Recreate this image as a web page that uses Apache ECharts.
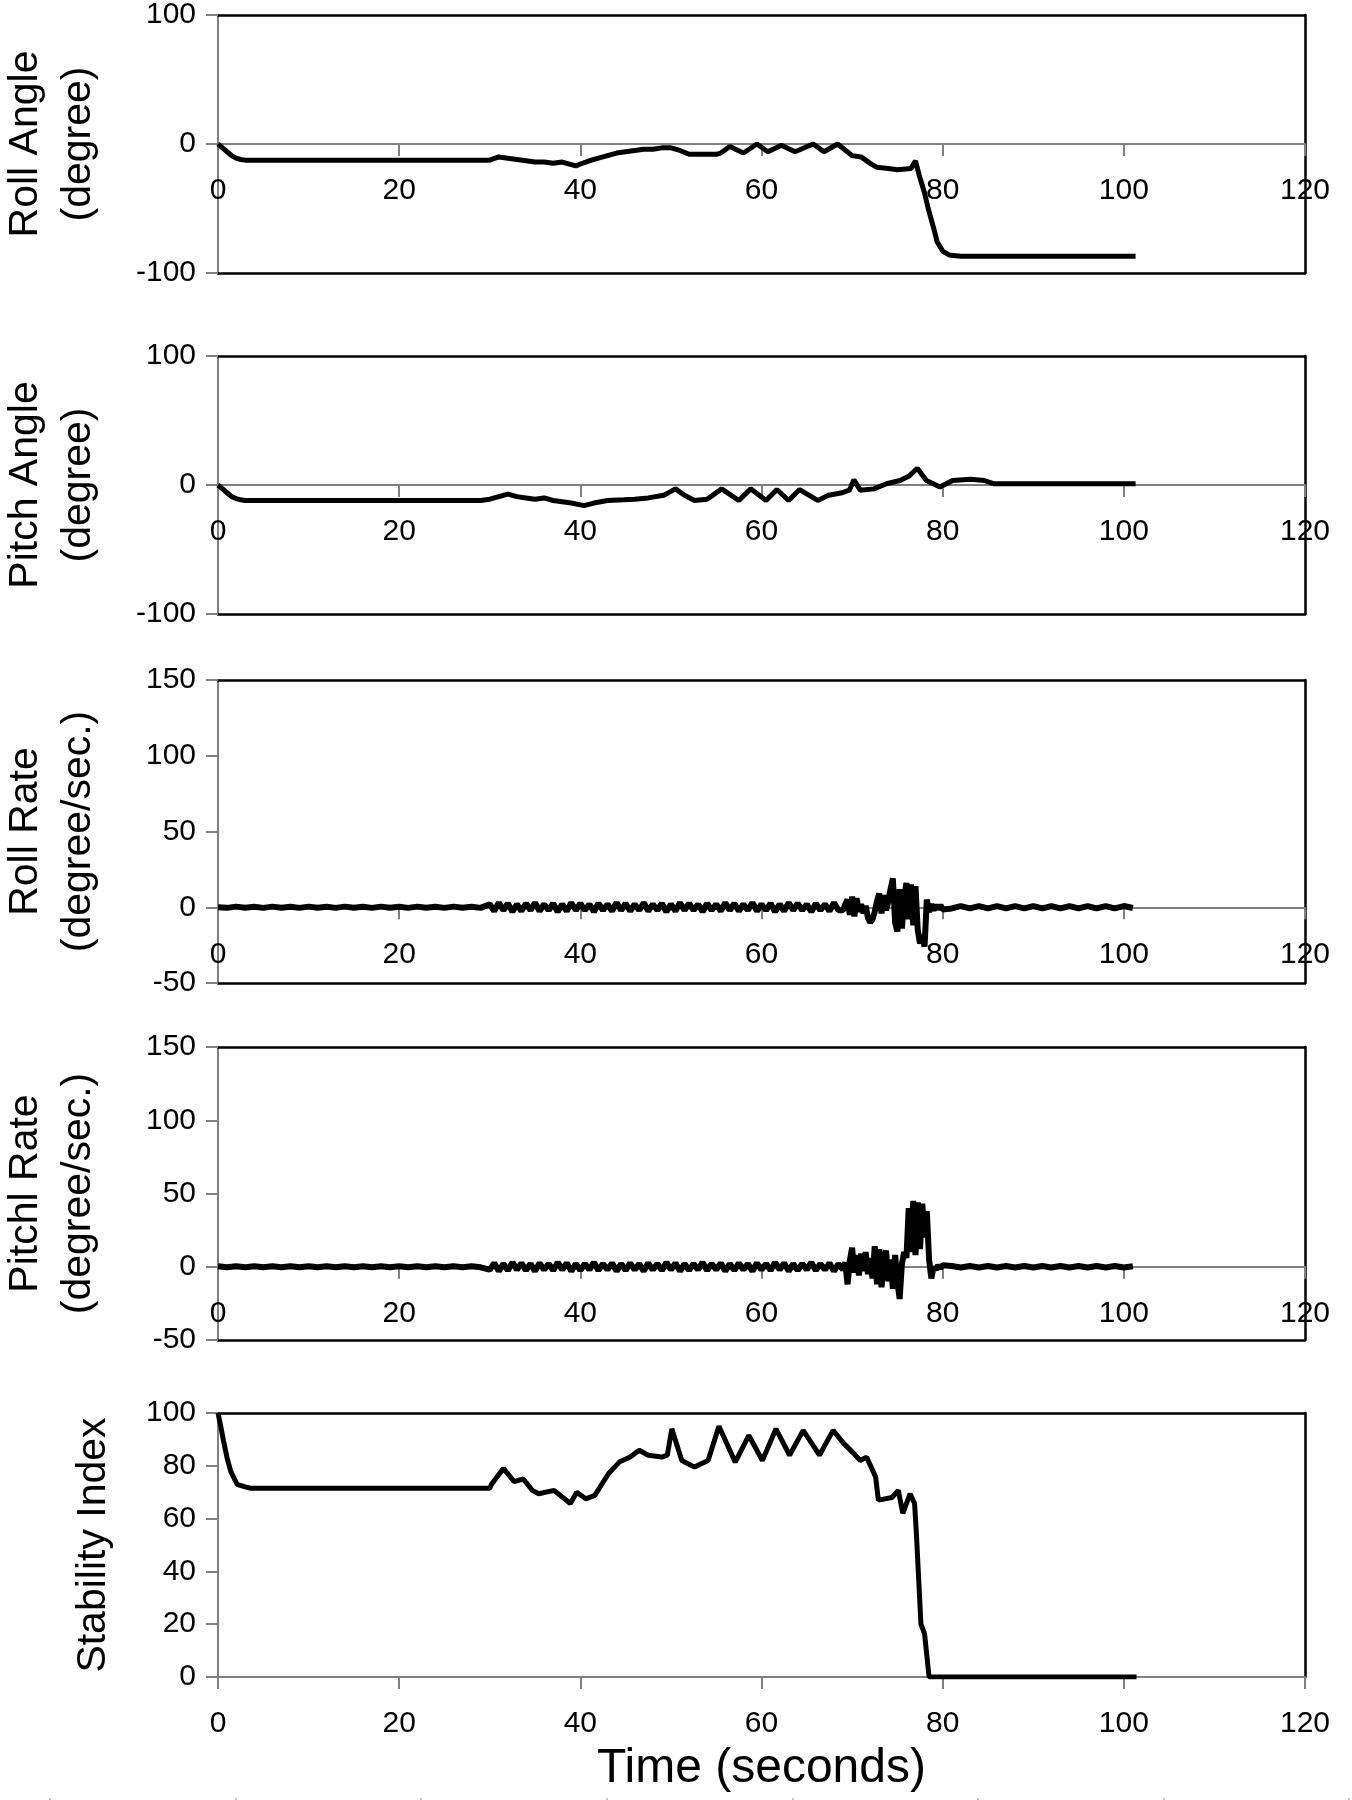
<!DOCTYPE html>
<html>
<head>
<meta charset="utf-8">
<script src="https://cdn.jsdelivr.net/npm/echarts@6/dist/echarts.min.js"></script>
<style>
  html, body { margin: 0; padding: 0; background: #fff; }
  #chart { width: 1352px; height: 1800px; }
</style>
</head>
<body>
<div id="chart"></div>
<script>
// [time (s), value] pairs
const rollAngle = [[0,0],[0.5,-3],[1,-6],[1.5,-9],[2,-11],[2.5,-12],[3,-12.5],[5,-12.5],[10,-12.5],[15,-12.5],[20,-12.5],[25,-12.5],[30,-12.5],[31,-10],[32,-11],[33,-12],[34,-13],[35,-14],[36,-14],[37,-15],[38,-14],[39,-16],[39.5,-17],[40,-15.5],[41,-13],[42,-11],[43,-9],[44,-7],[45,-6],[46,-5],[47,-4],[48,-4],[49,-3],[50,-3],[51,-5],[52,-8],[53,-8],[54,-8],[55,-8],[55.5,-7],[56.5,-2],[58,-7],[59.5,0],[60.7,-6],[62.2,-1],[63.7,-6],[65.7,0],[66.9,-6],[68.4,0],[69.3,-5],[70,-9],[71,-10],[72,-15],[72.7,-18],[74,-19],[75,-20],[76.5,-19],[77,-13],[77.4,-24],[78,-38],[78.4,-50],[79,-65],[79.4,-76],[80,-83],[80.7,-86],[82,-87],[85,-87],[90,-87],[95,-87],[101.3,-87]];

const pitchAngle = [[0,0],[0.5,-3],[1,-6],[1.5,-9],[2,-10.5],[2.5,-11.5],[3,-12],[10,-12],[20,-12],[29,-12],[30,-11],[31,-9],[32,-7],[33,-9],[34,-10],[35,-11],[36,-10],[37,-12],[38,-13],[39,-14],[40.4,-16],[41.5,-14],[43,-12],[44.8,-11.5],[46,-11],[47.5,-10],[49.2,-8],[50.5,-3],[51.5,-8],[52.6,-12],[54,-11],[55.6,-3],[57.5,-12],[58.8,-3],[60.5,-12],[61.7,-3.5],[63,-12],[64.2,-3.5],[66.2,-12],[67.4,-8],[68.9,-6],[69.7,-4],[70.2,4],[70.9,-4],[72.4,-3],[73.8,1],[75.3,3.5],[76.3,7],[77.2,13],[78.2,3.5],[79.7,-1.5],[81.1,3.5],[83.1,4.5],[84.6,3.5],[85.6,1],[90,1],[95,1],[101.3,1]];

// shared sample times for the two rate traces
const rateTime = [
    0,1,2,3,4,5,6,7,8,9,10,11,12,13,14,15,16,17,18,19,20,21,22,23,24,25,26,27,28,29,
    30,30.5,31,31.5,32,32.5,33,33.5,34,34.5,35,35.5,36,36.5,37,37.5,38,38.5,39,39.5,
    40,40.5,41,41.5,42,42.5,43,43.5,44,44.5,45,45.5,46,46.5,47,47.5,48,48.5,49,49.5,
    50,50.5,51,51.5,52,52.5,53,53.5,54,54.5,55,55.5,56,56.5,57,57.5,58,58.5,59,59.5,
    60,60.5,61,61.5,62,62.5,63,63.5,64,64.5,65,65.5,66,66.5,67,67.5,68,68.5,
    69,69.25,69.5,69.75,70,70.25,70.5,70.75,71,71.25,71.5,71.75,72,72.25,72.5,72.75,73,73.25,73.5,73.75,
    74,74.25,74.5,74.75,75,75.25,75.5,75.75,76,76.25,76.5,76.75,77,77.25,77.5,77.75,78,78.25,78.5,78.75,
    79,79.25,79.5,79.75,80,
    81,82,83,84,85,86,87,88,89,90,91,92,93,94,95,96,97,98,99,100,101
];

const rollRate = [
    0,-0.4,0.4,-0.3,0.3,-0.4,0.4,-0.3,0.3,-0.4,0.4,-0.3,0.3,-0.4,0.4,-0.3,0.3,-0.4,0.4,-0.3,0.3,-0.4,0.4,-0.3,0.3,-0.4,0.4,-0.3,0.3,-0.4,
    2,-2.5,3,-2,2.5,-3,2,-2.5,2.5,-2,3,-2.5,2,-2,2.5,-3,2,-2.5,3,-2,
    2.5,-2,2,-3,2.5,-2,2,-2.5,3,-2,2.5,-2.5,2,-2,3,-2.5,2,-2,2.5,-3,
    2,-2.5,3,-2,2.5,-2,2,-3,2.5,-2,2,-2.5,3,-2,2.5,-2.5,2,-2,3,-2.5,
    2,-2,2.5,-3,2,-2.5,3,-2,2.5,-2,2,-3,2.5,-2,2,-2.5,3,-2,
    -2,2,5,-5,7,-6,6,-3,2,-4,1,-7,-10,-8,-3,4,9,-4,8,-2,
    4,12,19,-10,-16,12,-14,6,16,-8,15,-12,14,-15,-24,-18,-26,5,-3,2,
    -2,1.5,-1.5,1.5,-1.5,
    -0.8,0.8,-0.8,0.8,-0.8,0.8,-0.8,0.8,-0.8,0.8,-0.8,0.8,-0.8,0.8,-0.8,0.8,-0.8,0.8,-0.8,0.8,-0.5
];

const pitchRate = [
    0.3,-0.4,0.4,-0.3,0.4,-0.4,0.3,-0.4,0.4,-0.3,0.4,-0.4,0.3,-0.4,0.4,-0.3,0.4,-0.4,0.3,-0.4,0.4,-0.3,0.4,-0.4,0.3,-0.4,0.4,-0.3,0.4,-0.4,
    -2,2.5,-3,2,-2.5,3,-2,2.5,-2.5,2,-3,2.5,-2,2,-2.5,3,-2,2.5,-3,2,
    -2.5,2,-2,3,-2.5,2,-2,2.5,-3,2,-2.5,2.5,-2,2,-3,2.5,-2,2,-2.5,3,
    -2,2.5,-3,2,-2.5,2,-2,3,-2.5,2,-2,2.5,-3,2,-2.5,2.5,-2,2,-3,2.5,
    -2,2,-2.5,3,-2,2.5,-3,2,-2.5,2,-2,3,-2.5,2,-2,2.5,-3,2,
    -2,3,-12,4,13,-4,8,-6,9,-3,10,-5,6,-8,14,-12,12,-14,6,11,
    -10,5,-15,8,-10,-22,2,10,6,40,10,45,8,44,12,43,20,38,5,-8,
    0,-2,1,-1,1,
    0.5,-0.5,0.5,-0.5,0.5,-0.5,0.5,-0.5,0.5,-0.5,0.5,-0.5,0.5,-0.5,0.5,-0.5,0.5,-0.5,0.5,-0.5,0.3
];

const stabilityIndex = [[0,100],[0.3,95],[0.6,89.6],[1,83],[1.4,78],[2.1,73],[3,72],[3.6,71.5],[10,71.5],[20,71.5],[30,71.5],[30.2,73],[31.5,79],[32.7,74],[33.7,75],[34.7,70.7],[35.4,69.4],[37.1,70.7],[38.9,65.7],[39.6,70],[40.6,67.5],[41.6,68.8],[43.1,77],[44.3,81.4],[45.5,83.3],[46.5,85.9],[47.5,84],[49,83.3],[49.6,84],[50.1,94],[51.2,82],[52.6,79.5],[54.1,82],[55.3,95],[57.1,81.4],[58.6,91.5],[60.1,82],[61.6,94],[63.1,84],[64.6,93.4],[66.4,84],[67.9,93.4],[69.1,88.4],[70.1,85],[70.9,82],[71.6,83.3],[72.6,75.8],[72.9,67],[74.4,68],[75.1,70.7],[75.6,62],[76.4,69.4],[76.9,65.7],[77.1,54.3],[77.6,20],[78,16.4],[78.5,0],[80,0],[90,0],[101.4,0]];

const xTicks = [0, 120, 20];   // min, max, interval
const panelNames = ["Roll Angle\n(degree)", "Pitch Angle\n(degree)", "Roll Rate\n(degree/sec.)", "Pitchl Rate\n(degree/sec.)", "Stability Index"];
const panelY = [[-100, 100, 100], [-100, 100, 100], [-50, 150, 50], [-50, 150, 50], [0, 100, 20]];

const FONT = "'Liberation Sans', Arial, sans-serif";
const GREY = "#808080";

const zip = (t, v) => t.map((x, i) => [x, v[i]]);
const seriesData = [rollAngle, pitchAngle, zip(rateTime, rollRate), zip(rateTime, pitchRate), stabilityIndex];
const lineWidths = [5, 5, 6, 6, 5];

let myChart = echarts.init(document.getElementById("chart"));

const grids = [
    { left: 218, width: 1087, top: 15, height: 258 },
    { left: 218, width: 1087, top: 356, height: 258 },
    { left: 218, width: 1087, top: 680, height: 303 },
    { left: 218, width: 1087, top: 1047, height: 293 },
    { left: 218, width: 1087, top: 1413, height: 264 },
    // stray tick marks along the bottom edge of the picture
    { left: 50, right: 3, top: 1790, height: 8 },
].map(g => Object.assign({ outerBoundsMode: "none", containLabel: false }, g));

let xAxes = [];
let yAxes = [];
let series = [];

for (let i = 0; i < 5; i++) {
    const [yMin, yMax, yStep] = panelY[i];
    // time axis sits on the y = 0 line
    const zeroOffset = -grids[i].height * (0 - yMin) / (yMax - yMin);
    xAxes.push({
        gridIndex: i, type: "value", min: xTicks[0], max: xTicks[1], interval: xTicks[2],
        position: "bottom", offset: zeroOffset,
        axisLine: { onZero: false, lineStyle: { color: GREY, width: 2 } },
        axisTick: { length: 12, lineStyle: { color: GREY, width: 2 } },
        axisLabel: { fontSize: 30, color: "#000", margin: 32, fontFamily: FONT },
        splitLine: { show: false },
        name: i === 4 ? "Time (seconds)" : "",
        nameLocation: "middle", nameGap: 68,
        nameTextStyle: { fontSize: 48, color: "#000", fontFamily: FONT },
    });
    // black frame: top
    xAxes.push({
        gridIndex: i, type: "value", min: xTicks[0], max: xTicks[1], position: "top",
        axisLine: { onZero: false, lineStyle: { color: "#000", width: 2.5 } },
        axisTick: { show: false }, axisLabel: { show: false }, splitLine: { show: false },
    });
    // black frame: bottom (angle/rate panels only)
    if (i < 4) {
        xAxes.push({
            gridIndex: i, type: "value", min: xTicks[0], max: xTicks[1], position: "bottom",
            axisLine: { onZero: false, lineStyle: { color: "#000", width: 2.5 } },
            axisTick: { show: false }, axisLabel: { show: false }, splitLine: { show: false },
        });
    }
    const twoLine = panelNames[i].indexOf("\n") >= 0;
    yAxes.push({
        gridIndex: i, type: "value", min: yMin, max: yMax, interval: yStep,
        axisLine: { show: true, onZero: false, lineStyle: { color: GREY, width: 2 } },
        axisTick: { show: true, length: 12, lineStyle: { color: GREY, width: 2 } },
        axisLabel: { fontSize: 30, color: "#000", margin: 22, fontFamily: FONT },
        splitLine: { show: false },
        name: panelNames[i], nameLocation: "middle", nameRotate: 90,
        nameGap: twoLine ? 113 : 98,
        nameTextStyle: { fontSize: 41, lineHeight: 53, color: "#000", fontFamily: FONT },
    });
    // black frame: right
    yAxes.push({
        gridIndex: i, type: "value", min: yMin, max: yMax, position: "right",
        axisLine: { show: true, onZero: false, lineStyle: { color: "#000", width: 2.5 } },
        axisTick: { show: false }, axisLabel: { show: false }, splitLine: { show: false },
    });
}

const xIndexOf = g => xAxes.findIndex(a => a.gridIndex === g);
const yIndexOf = g => yAxes.findIndex(a => a.gridIndex === g);

for (let i = 0; i < 5; i++) {
    series.push({
        type: "line", xAxisIndex: xIndexOf(i), yAxisIndex: yIndexOf(i),
        data: seriesData[i], showSymbol: false, symbol: "none", smooth: false,
        lineStyle: { color: "#000", width: lineWidths[i] },
        z: 5,
    });
}

xAxes.push({
    gridIndex: 5, type: "value", min: 0, max: 7, interval: 1, position: "top",
    axisLine: { show: false }, axisLabel: { show: false }, splitLine: { show: false },
    axisTick: { show: true, inside: true, length: 8, lineStyle: { color: "#c8c8c8", width: 2 } },
});
yAxes.push({ gridIndex: 5, type: "value", min: 0, max: 1, show: false });

let option = {
    backgroundColor: "#fff",
    animation: false,
    grid: grids,
    xAxis: xAxes,
    yAxis: yAxes,
    series: series,
};
myChart.setOption(option);
window.addEventListener("resize", function () {
    myChart.resize();
});
</script>
</body>
</html>
